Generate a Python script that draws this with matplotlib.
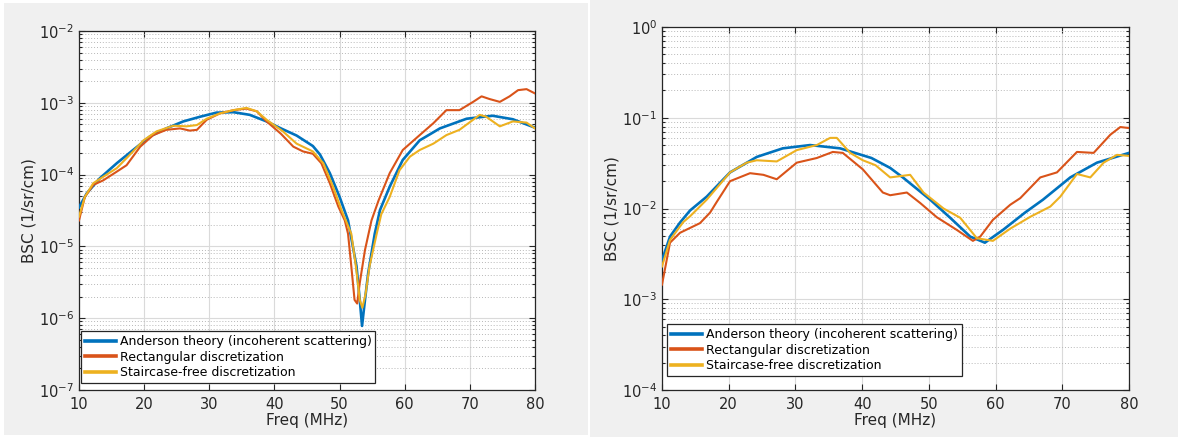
import matplotlib
matplotlib.use('Agg')
import matplotlib.pyplot as plt
from matplotlib.patches import Rectangle
from matplotlib.ticker import LogLocator, NullFormatter

# Backscatter coefficient vs frequency, two scatterer cases

# Left panel
freq_a_blue = [10, 11.2, 13.2, 15.8, 18.3, 20.9, 23.4, 26, 28.6, 31.1, 33.7, 36.2, 38.8, 41, 43.4,
               45.9, 47, 48.5, 50, 51.3, 52.6, 53.1, 53.45, 53.9, 54.4, 55.4, 56.2, 57.7, 59.7,
               62.3, 65.4, 69.5, 73.5, 76.6, 80]
bsc_a_blue = [3.5e-5, 5.5e-5, 8.9e-5, 1.44e-4, 2.2e-4, 3.4e-4, 4.4e-4, 5.5e-4, 6.4e-4, 7.3e-4, 7.4e-4,
              6.8e-4, 5.5e-4, 4.4e-4, 3.5e-4, 2.5e-4, 1.9e-4, 1.05e-4, 4.9e-5, 2.3e-5, 5.3e-6,
              1.8e-6, 7.8e-7, 1.8e-6, 4.3e-6, 1.5e-5, 3.2e-5, 6.8e-5, 1.6e-4, 3.0e-4, 4.4e-4,
              6.0e-4, 6.6e-4, 5.9e-4, 4.5e-4]

freq_a_red = [10, 10.9, 12.2, 13.7, 15.8, 17.3, 19.4, 21.4, 23.4, 25.5, 27, 28.1, 29.6, 31.6, 33.7,
              35.7, 37.3, 38.8, 41, 42.9, 44.4, 45.9, 47.2, 48.5, 49.8, 50.8, 51.3, 51.8, 52.3,
              52.7, 53.1, 53.9, 54.9, 56, 57.7, 59.7, 62.3, 64.4, 66.4, 68.4, 70.5, 71.8, 73,
              74.6, 76.1, 77.4, 78.7, 80]
bsc_a_red = [2.3e-5, 4.9e-5, 7.2e-5, 8.3e-5, 1.1e-4, 1.35e-4, 2.45e-4, 3.55e-4, 4.2e-4, 4.4e-4, 4.1e-4,
             4.2e-4, 5.8e-4, 7.1e-4, 7.9e-4, 8.3e-4, 7.6e-4, 5.5e-4, 3.7e-4, 2.45e-4, 2.1e-4,
             1.95e-4, 1.44e-4, 7.6e-5, 3.6e-5, 2.3e-5, 1.5e-5, 5.3e-6, 1.8e-6, 1.6e-6, 3.1e-6,
             8.9e-6, 2.3e-5, 4.4e-5, 1.05e-4, 2.2e-4, 3.55e-4, 5.2e-4, 7.9e-4, 7.9e-4, 1.03e-3,
             1.23e-3, 1.13e-3, 1.03e-3, 1.23e-3, 1.5e-3, 1.55e-3, 1.35e-3]

freq_a_yellow = [10, 10.9, 12.2, 13.7, 15.8, 18.3, 19.9, 21.9, 24.5, 26.5, 28.1, 29.6, 31.6, 33.7,
                 35.7, 37.3, 38.8, 41.3, 43.4, 45.9, 47.5, 49, 50.3, 51.8, 52.5, 53.1, 53.5, 54,
                 54.6, 55.7, 56.4, 57.7, 59.2, 60.8, 62.3, 64.4, 66.4, 68.4, 70.5, 71.5, 72.5,
                 74.6, 76.6, 78.7, 80]
bsc_a_yellow = [2.6e-5, 4.9e-5, 7.6e-5, 9.3e-5, 1.23e-4, 2.1e-4, 3.0e-4, 4.0e-4, 4.8e-4, 4.7e-4,
                4.9e-4, 6.0e-4, 7.1e-4, 7.9e-4, 8.5e-4, 7.6e-4, 5.8e-4, 4.0e-4, 2.7e-4, 2.1e-4,
                1.44e-4, 6.8e-5, 3.2e-5, 1.5e-5, 5.3e-6, 1.8e-6, 1.4e-6, 2.2e-6, 5.3e-6, 1.5e-5,
                2.8e-5, 4.9e-5, 1.15e-4, 1.78e-4, 2.2e-4, 2.7e-4, 3.55e-4, 4.2e-4, 5.8e-4,
                6.8e-4, 6.4e-4, 4.7e-4, 5.5e-4, 5.3e-4, 4.4e-4]

# Right panel
freq_b_blue = [10, 11.2, 12.7, 14.2, 16.7, 20.2, 24.2, 28.1, 32.2, 36.7, 41.4, 44.2, 46.1, 50.2,
               53.2, 56.2, 58.4, 61.1, 64.4, 67.1, 71.2, 75.2, 80]
bsc_b_blue = [2.7e-3, 4.9e-3, 7.0e-3, 9.5e-3, 1.35e-2, 2.5e-2, 3.7e-2, 4.6e-2, 5.0e-2, 4.6e-2, 3.6e-2,
              2.8e-2, 2.2e-2, 1.25e-2, 7.9e-3, 4.9e-3, 4.2e-3, 5.8e-3, 9.0e-3, 1.25e-2, 2.2e-2,
              3.2e-2, 4.1e-2]

freq_b_red = [10, 11.2, 12.7, 15.7, 17.2, 18.2, 20.2, 23.2, 25.2, 27.2, 30.2, 33.2, 35.6, 37.1, 40.1,
              43.1, 44.2, 46.7, 48.7, 51.2, 54.2, 56.6, 57.7, 59.6, 62.2, 63.7, 66.7, 69.2, 72.2,
              74.7, 77.2, 78.7, 80]
bsc_b_red = [1.45e-3, 4.2e-3, 5.4e-3, 6.9e-3, 9.0e-3, 1.18e-2, 2.0e-2, 2.45e-2, 2.35e-2, 2.1e-2,
             3.2e-2, 3.6e-2, 4.2e-2, 4.1e-2, 2.7e-2, 1.5e-2, 1.4e-2, 1.5e-2, 1.15e-2, 8.0e-3,
             5.8e-3, 4.4e-3, 4.9e-3, 7.5e-3, 1.1e-2, 1.3e-2, 2.2e-2, 2.5e-2, 4.2e-2, 4.1e-2,
             6.5e-2, 7.9e-2, 7.7e-2]

freq_b_yellow = [10, 11.2, 13.2, 14.2, 16.7, 20.2, 22.7, 24.2, 27.2, 30.2, 33.2, 35.2, 36.2, 38.2,
                 40.1, 42, 44.2, 47.2, 49.2, 52.2, 54.7, 57.2, 59.6, 62.2, 65.2, 68.2, 69.7, 72.2,
                 74.2, 76.2, 78.2, 80]
bsc_b_yellow = [2.3e-3, 4.5e-3, 7.1e-3, 8.2e-3, 1.25e-2, 2.5e-2, 3.2e-2, 3.4e-2, 3.3e-2, 4.4e-2,
                5.0e-2, 6.0e-2, 6.0e-2, 4.1e-2, 3.4e-2, 3.0e-2, 2.2e-2, 2.35e-2, 1.5e-2, 1.0e-2,
                7.9e-3, 4.7e-3, 4.4e-3, 6.0e-3, 8.1e-3, 1.05e-2, 1.35e-2, 2.4e-2, 2.2e-2, 3.2e-2,
                3.9e-2, 3.8e-2]

legend_labels = ['Anderson theory (incoherent scattering)', 'Rectangular discretization',
                 'Staircase-free discretization']
colors = ['#0072BD', '#D95319', '#EDB120']
text_color = '#262626'

fig = plt.figure(figsize=(11.78, 4.37), dpi=100, facecolor='white')
# two grey figure windows side by side
fig.patches.append(Rectangle((4 / 1178, 2 / 437), 584 / 1178, 432 / 437,
                             transform=fig.transFigure, facecolor='#f0f0f0', edgecolor='none', zorder=-1))
fig.patches.append(Rectangle((590 / 1178, 0), 588 / 1178, 1,
                             transform=fig.transFigure, facecolor='#f0f0f0', edgecolor='none', zorder=-1))

ax1 = fig.add_axes([79 / 1178, 47 / 437, 456 / 1178, 359 / 437])
ax2 = fig.add_axes([662 / 1178, 47 / 437, 467 / 1178, 363 / 437])


def style_axis(ax, ylo, yhi, legend_xy):
    ax.set_yscale('log')
    ax.set_xlim(10, 80)
    ax.set_ylim(ylo, yhi)
    ax.set_facecolor('white')
    ax.set_xticks([10, 20, 30, 40, 50, 60, 70, 80])
    ax.yaxis.set_major_locator(LogLocator(base=10, numticks=20))
    ax.yaxis.set_minor_locator(LogLocator(base=10, subs=range(2, 10), numticks=50))
    ax.yaxis.set_minor_formatter(NullFormatter())
    ax.grid(True, which='major', color='#dadada', linewidth=0.8)
    ax.grid(True, which='minor', axis='y', color='#b8b8b8', linestyle=(0, (1, 2)), linewidth=0.7)
    ax.set_axisbelow(True)
    ax.tick_params(which='both', direction='in', top=True, right=True, colors=text_color,
                   labelsize=10.5, width=0.8)
    ax.tick_params(which='major', length=4)
    ax.tick_params(which='minor', length=2.5)
    ax.tick_params(axis='x', pad=5)
    for s in ax.spines.values():
        s.set_color(text_color)
        s.set_linewidth(0.9)
    ax.set_xlabel('Freq (MHz)', fontsize=11, color=text_color, labelpad=1)
    ax.set_ylabel('BSC (1/sr/cm)', fontsize=11, color=text_color, labelpad=2)
    leg = ax.legend(loc='lower left', bbox_to_anchor=legend_xy, borderaxespad=0, fontsize=9,
                    fancybox=False, framealpha=1, edgecolor='#262626', handlelength=2.5,
                    handletextpad=0.3, borderpad=0.3, labelspacing=0.2)
    leg.get_frame().set_linewidth(0.9)
    for line in leg.get_lines():
        line.set_linewidth(2.6)


ax1.plot(freq_a_blue, bsc_a_blue, color=colors[0], lw=1.9, label=legend_labels[0], zorder=3)
ax1.plot(freq_a_red, bsc_a_red, color=colors[1], lw=1.5, label=legend_labels[1], zorder=4)
ax1.plot(freq_a_yellow, bsc_a_yellow, color=colors[2], lw=1.5, label=legend_labels[2], zorder=5)
style_axis(ax1, 1e-7, 1e-2, (0.004, 0.02))

ax2.plot(freq_b_blue, bsc_b_blue, color=colors[0], lw=1.9, label=legend_labels[0], zorder=3)
ax2.plot(freq_b_red, bsc_b_red, color=colors[1], lw=1.5, label=legend_labels[1], zorder=4)
ax2.plot(freq_b_yellow, bsc_b_yellow, color=colors[2], lw=1.5, label=legend_labels[2], zorder=5)
style_axis(ax2, 1e-4, 1e0, (0.011, 0.039))

fig.savefig('out.png', dpi=100, facecolor=fig.get_facecolor())
